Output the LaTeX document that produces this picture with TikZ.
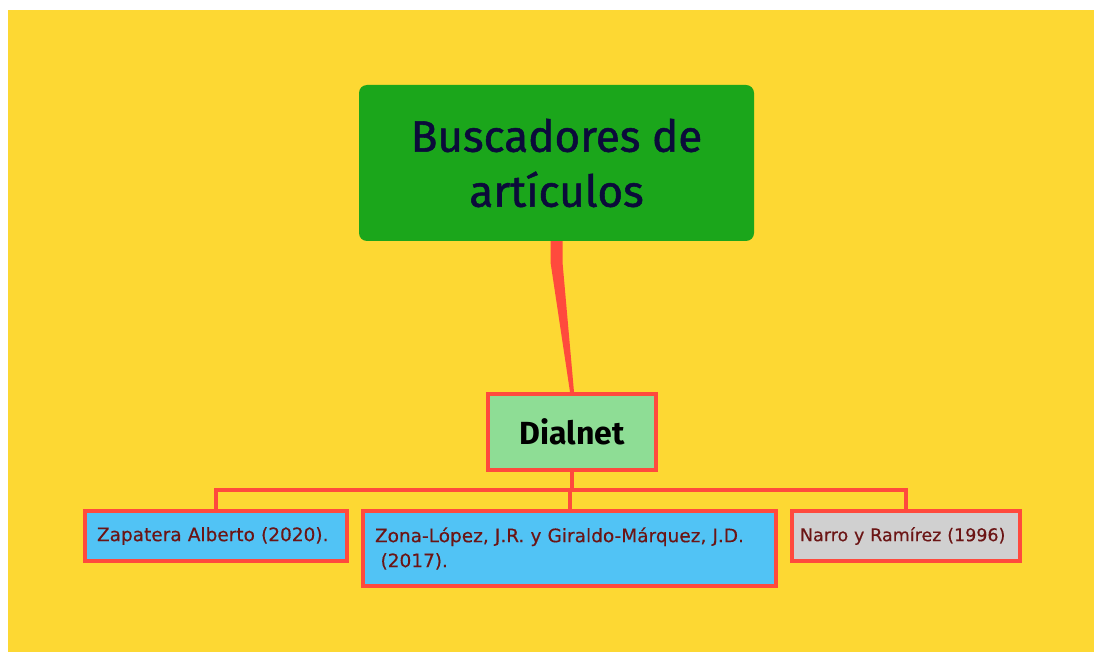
\documentclass[tikz,border=0pt]{standalone}
\usepackage{fontspec}
\setmainfont{Fira Sans}
\newfontfamily\titlefont{Fira Sans}[FakeBold=1.2]
\newfontfamily\reffont{DejaVu Sans}[FakeBold=0.4]
\usetikzlibrary{calc}
\definecolor{bgyellow}{HTML}{FDD833}
\definecolor{titlegreen}{HTML}{1BA61B}
\definecolor{titleink}{HTML}{0B0B3A}
\definecolor{dialgreen}{HTML}{8EDD95}
\definecolor{linered}{HTML}{FF4A3D}
\definecolor{refblue}{HTML}{51C3F5}
\definecolor{refgray}{HTML}{D0D0D0}
\definecolor{refink}{HTML}{6B1515}
\tikzset{
  topic/.style = {
    fill=titlegreen, rounded corners=8pt, text=titleink, align=center,
    minimum width=395pt, minimum height=156pt,
    font=\titlefont\fontsize{44}{55}\selectfont
  },
  subtopic/.style = {
    fill=dialgreen, draw=linered, line width=4pt,
    minimum width=168pt, minimum height=76pt,
    font=\bfseries\fontsize{32}{38}\selectfont
  },
  ref/.style = {
    draw=linered, line width=4pt, text=refink, align=left,
    inner xsep=12pt, inner ysep=0pt,
    font=\reffont\fontsize{18.5}{25}\selectfont
  },
  tree/.style = {draw=linered, line width=4pt}
}

\begin{document}
\begin{tikzpicture}[x=1pt,y=-1pt]
  % page and background
  \fill[white] (0,0) rectangle (1094,652);
  \fill[bgyellow] (8,10) rectangle (1094,652);
  \useasboundingbox (0,0) rectangle (1094,652);
  % main topic
  \node[topic] (title) at (556.5,163) {Buscadores de\\artículos};
  % subtopic
  \node[subtopic] (dialnet) at (572,432) {Dialnet};
  % references
  \node[ref, fill=refblue, minimum width=262pt, minimum height=50pt, text width=238pt]
    (zapatera) at (216,536) {Zapatera Alberto (2020).};
  \node[ref, fill=refblue, minimum width=413pt, minimum height=75pt, text width=389pt]
    (zona) at (569.5,548.5) {Zona-López, J.R. y Giraldo-Márquez, J.D.\\\hspace*{0.3em}(2017).};
  \node[ref, fill=refgray, minimum width=228pt, minimum height=50pt, text width=212pt,
    inner xsep=8pt, font=\reffont\fontsize{17.5}{25}\selectfont]
    (narro) at (906,536) {Narro y Ramírez (1996)};
  % tapered branch
  \fill[linered] ($(title.south)+(-6,0)$) -- ($(title.south)+(6,0)$)
    -- ($(title.south)+(6,21)$) -- ($(dialnet.north)+(2,0)$)
    -- ($(dialnet.north)+(-2,0)$) -- ($(title.south)+(-6,21)$) -- cycle;
  % tree lines
  \coordinate (bus) at (0,490);
  \draw[tree] (dialnet.south) -- (dialnet.south |- bus);
  \draw[tree] (zapatera.north) -- (zapatera.north |- bus) -- (narro.north |- bus) -- (narro.north);
  \draw[tree] (zona.north |- bus) -- (zona.north);
\end{tikzpicture}
\end{document}
